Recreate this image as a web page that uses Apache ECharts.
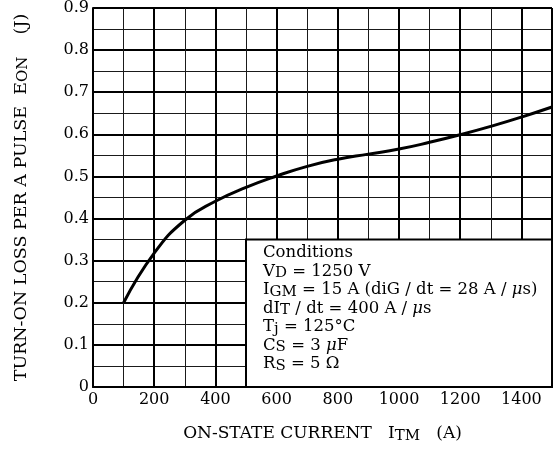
<!DOCTYPE html>
<html>
<head>
<meta charset="utf-8">
<script src="https://cdn.jsdelivr.net/npm/echarts@6/dist/echarts.min.js"></script>
<style>
html,body{margin:0;padding:0;background:#fff;}
#chart{width:555px;height:452px;}
</style>
</head>
<body>
<div id="chart"></div>
<script>
// ---- data ----
const currents = [100, 200, 300, 400, 500, 600, 700, 800, 900, 1000, 1100, 1200, 1300, 1400, 1500];
const turnOnLoss = [0.200, 0.318, 0.396, 0.441, 0.474, 0.501, 0.524, 0.541, 0.553, 0.565, 0.581, 0.599, 0.619, 0.641, 0.665];
const xTickLabels = [0, 200, 400, 600, 800, 1000, 1200, 1400];
const yTickLabels = [0, 0.1, 0.2, 0.3, 0.4, 0.5, 0.6, 0.7, 0.8, 0.9];
const conditionsFrom = [500, 0];
const conditionsTo = [1500, 0.35];
const conditionLines = [
  '{t|Conditions}',
  '{t|V}{s|D}{t| = 1250 V}',
  '{t|I}{s|GM}{t| = 15 A (diG / dt = 28 A / }{i|μ}{t|s)}',
  '{t|dI}{s|T}{t| / dt = 400 A / }{i|μ}{t|s}',
  '{t|T}{s|j}{t| = 125°C}',
  '{t|C}{s|S}{t| = 3 }{i|μ}{t|F}',
  '{t|R}{s|S}{t| = 5 Ω}'
];

const FONT = 'DejaVu Serif';
const chart = echarts.init(document.getElementById('chart'), null, {renderer: 'canvas'});

function near(v, list) { return list.some(x => Math.abs(x - v) < 1e-6); }

const condRich = {
  t: {fontFamily: FONT, fontSize: 16.5, color: '#000', lineHeight: 18.5},
  s: {fontFamily: FONT, fontSize: 15, color: '#000', lineHeight: 8, verticalAlign: 'bottom'},
  i: {fontFamily: FONT, fontSize: 16.5, color: '#000', fontStyle: 'italic', lineHeight: 18.5}
};

const option = {
  backgroundColor: '#fff',
  animation: false,
  grid: {left: 93, top: 4, right: 1, bottom: 65, containLabel: false},
  xAxis: [
    {
      type: 'value', min: 0, max: 1500, interval: 100,
      axisLine: {show: true, onZero: false, lineStyle: {color: '#000', width: 2}},
      axisTick: {show: false},
      axisLabel: {
        margin: 5, color: '#000', fontFamily: FONT, fontSize: 16,
        formatter: v => near(v, xTickLabels) ? String(v) : ''
      },
      splitLine: {show: true, lineStyle: {color: '#1a1a1a', width: 1}},
      name: 'ON-STATE CURRENT   I{s|TM}   (A)',
      nameLocation: 'middle', nameGap: 37,
      nameTextStyle: {fontFamily: FONT, fontSize: 17, color: '#000', lineHeight: 20,
        rich: {s: {fontFamily: FONT, fontSize: 15, color: '#000', lineHeight: 8, verticalAlign: 'bottom'}}}
    },
    {
      type: 'value', min: 0, max: 1500, interval: 200, position: 'bottom',
      axisLine: {show: false}, axisTick: {show: false}, axisLabel: {show: false},
      splitLine: {show: true, lineStyle: {color: '#000', width: 2}}
    }
  ],
  yAxis: [
    {
      type: 'value', min: 0, max: 0.9, interval: 0.05,
      axisLine: {show: true, onZero: false, lineStyle: {color: '#000', width: 2}},
      axisTick: {show: false},
      axisLabel: {
        margin: 4, color: '#000', fontFamily: FONT, fontSize: 16,
        formatter: v => near(v, yTickLabels) ? String(Math.round(v * 10) / 10) : ''
      },
      splitLine: {show: true, lineStyle: {color: '#1a1a1a', width: 1}},
      name: 'TURN-ON LOSS PER A PULSE  E{s|ON}    (J)',
      nameLocation: 'middle', nameGap: 62, nameRotate: 90,
      nameTextStyle: {fontFamily: FONT, fontSize: 17.5, color: '#000', lineHeight: 20,
        rich: {s: {fontFamily: FONT, fontSize: 15, color: '#000', lineHeight: 8, verticalAlign: 'bottom'}}}
    },
    {
      type: 'value', min: 0, max: 0.9, interval: 0.1, position: 'left',
      axisLine: {show: false}, axisTick: {show: false}, axisLabel: {show: false},
      splitLine: {show: true, lineStyle: {color: '#000', width: 2}}
    }
  ],
  series: [
    {
      type: 'line',
      xAxisIndex: 0, yAxisIndex: 0,
      data: currents.map((c, i) => [c, turnOnLoss[i]]),
      smooth: 0.5,
      showSymbol: false,
      lineStyle: {color: '#000', width: 3},
      z: 5,
      markArea: {
        silent: true,
        itemStyle: {color: '#fff', borderColor: '#000', borderWidth: 2},
        label: {
          show: true, position: 'insideTopLeft', distance: 0, offset: [18, 5],
          formatter: conditionLines.join('\n'),
          rich: condRich
        },
        data: [[{coord: conditionsFrom}, {coord: conditionsTo}]]
      }
    }
  ]
};
chart.setOption(option);
</script>
</body>
</html>
